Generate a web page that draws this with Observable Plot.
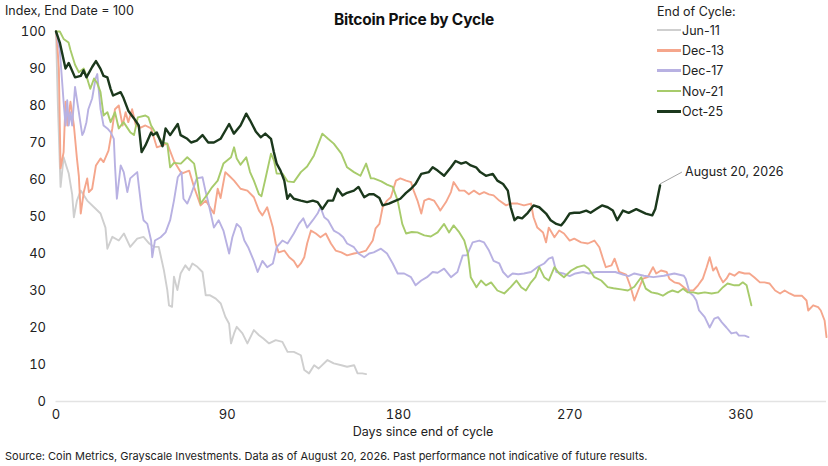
<!DOCTYPE html>
<html>
<head>
<meta charset="utf-8">
<script src="https://cdn.jsdelivr.net/npm/d3@7"></script>
<script src="https://cdn.jsdelivr.net/npm/@observablehq/plot@0.6"></script>
<style>
  html, body { margin: 0; padding: 0; background: #fff; }
  #wrap { position: relative; width: 828px; height: 466px; font-family: Inter, "Noto Sans", sans-serif; color: #222; }
  .abs { position: absolute; white-space: nowrap; }
  #title { left: 0; width: 828px; top: 10px; text-align: center; font-weight: 700; font-size: 15.5px; color: #111; letter-spacing: -0.2px; }
  #ylab { left: 5px; top: 3px; font-size: 12.5px; }
  #xlab { left: 0; width: 846px; top: 424px; text-align: center; font-size: 12.5px; }
  #source { left: 5px; top: 449px; font-size: 11px; }
  #legend { left: 657px; top: 4px; font-size: 12.5px; }
  #legend .row { display: flex; align-items: center; height: 20.3px; }
  #legend .sw { width: 24px; height: 2.5px; margin-right: 1px; }
  #legend .head { height: 16px; }
</style>
</head>
<body>
<div id="wrap">
  <div id="chart"></div>
  <div class="abs" id="title">Bitcoin Price by Cycle</div>
  <div class="abs" id="ylab">Index, End Date = 100</div>
  <div class="abs" id="xlab">Days since end of cycle</div>
  <div class="abs" id="source">Source: Coin Metrics, Grayscale Investments. Data as of August 20, 2026. Past performance not indicative of future results.</div>
  <div class="abs" id="legend"></div>
</div>
<script>
const cycles = ["Jun-11", "Dec-13", "Dec-17", "Nov-21", "Oct-25"];
const colors = ["#cfcfcf", "#f5a68c", "#b8b1e2", "#a7cb6b", "#1b381c"];
const xTicks = [0, 90, 180, 270, 360];
const yTicks = [0, 10, 20, 30, 40, 50, 60, 70, 80, 90, 100];
const annotationText = "August 20, 2026";

const jun11 = [[0,100],[1,80],[2.4,58],[4,66],[5,64.3],[6.7,61.6],[8.5,56],[9.4,49.8],[11,54.3],[13,57],[16.4,54.3],[20,52.5],[23.4,50.8],[26,47],[27,41.3],[29.6,44.5],[33,43.5],[35.7,45.4],[39,41.8],[42.7,44],[46,44.5],[49,42.7],[51.5,41.8],[54,41.8],[56.7,35.5],[58.5,30.1],[59.4,26],[61,25.6],[62,33.7],[63.8,30.1],[65.5,34.6],[68,36.8],[70,35.5],[71.7,37.3],[74.3,36.4],[77,35],[78.7,28.7],[81,28.7],[84,27.8],[86.6,26.5],[89,22.9],[91,21],[92,15.7],[93.6,18.4],[95,20.2],[98,18.4],[100.6,15.7],[104,19.3],[106.7,17.9],[109,17],[112,15.7],[115.5,16.6],[119,16.1],[121.7,13.4],[125,13.4],[128.7,12.5],[130.5,8.5],[133,7.6],[135.7,9.8],[138,8.9],[142.7,11.2],[146,10.3],[150,9.8],[153,9.4],[156.7,9.8],[158.5,7.6],[161,7.6],[163,7.4]];

const dec13 = [[0,100],[0.6,97],[1.5,90],[2.4,63],[4,67.4],[5,81],[6,74.6],[7.6,81],[9.4,74.6],[11,65.7],[12,61],[13,50.8],[14.6,56.6],[16.4,60.3],[17.3,56.6],[19,57.5],[21,63.8],[23.4,65.7],[25,64.7],[27.6,67.8],[29.6,73.8],[31,79],[33,80],[35,74.6],[36.6,78.2],[38,75.5],[40,79],[42,74.6],[44.5,74],[47,74.6],[50,73.8],[53,68.7],[58.5,69.7],[62,65],[66,61.6],[70,62.4],[72.6,57.9],[76,53],[78.7,54.3],[83,50.8],[85,57.5],[86.5,55],[89,62],[91,61],[93.6,59.7],[97,57.5],[100.6,57],[104,55.2],[106.7,51.6],[108.5,50.3],[111,52.5],[114,47],[115.5,42.7],[117,40.3],[120,40.8],[122.6,39],[125,38],[127,36.3],[128.7,37.3],[130.5,39],[132,42.7],[134,46.2],[136.6,45.4],[139,44.4],[141.8,45.4],[144.5,42.7],[147,40.8],[150,40.3],[153,39.5],[156.6,40],[160,40.3],[163,40.8],[166.5,43.5],[168,46.8],[170,48],[171.7,52.5],[174,54.3],[176,55.2],[178.7,59.7],[181,60.3],[184,59.7],[186.6,59.3],[188,57],[190,54.3],[192,50.8],[193.6,54.3],[196,54.8],[198.7,54.3],[201,52.5],[202,51.6],[205,53.9],[207.6,56.6],[209,59.3],[212,57],[214.6,57],[217,56],[219.7,57],[222.5,56],[225,56.6],[227.6,56],[230,55.7],[233,54.3],[236.6,53],[239,53.5],[242.7,53.5],[246,53],[249.7,53.5],[251,49.8],[253,47],[256,45.7],[257.6,43],[259,47],[262,44.4],[264.5,46.2],[267,45.4],[270,43.5],[272.4,44],[276,43],[279.6,42.7],[283,43.5],[285.6,41.7],[287.5,38.6],[289,36.3],[292,36.8],[293.6,38.6],[296,35],[299.7,34.3],[302,31],[304,27.3],[306,30],[308.5,33.2],[311,33.6],[313.8,36.3],[315.5,34.6],[318,35.4],[321,35],[322.4,33.2],[325,32.2],[327.6,31.9],[330,30.9],[332,30],[335,30],[337.5,31.4],[340,33.2],[342,36.3],[343.6,39],[345.4,35.4],[347,36.3],[348.7,34],[350.6,32.2],[352.4,33.2],[354,34.6],[356.6,34],[359,35],[362,34.6],[364.5,34.6],[367,33.6],[370,32.2],[372.4,32.2],[375,31.9],[378,30],[380.6,29.2],[383,30],[385.6,29.2],[388,28.6],[392,28.6],[394.5,27.3],[395.4,24.6],[398,26],[400.6,25.5],[402,24.6],[404,21.9],[405,17.4]];

const dec17 = [[0,100],[2,95],[4,81],[5,74.6],[5.9,81.4],[6.7,74.6],[7.6,78.2],[8.5,74.6],[10,85],[12,78.2],[13.8,72],[14.6,72.8],[16,75.5],[17,79],[19,81.9],[20.8,87.3],[21.7,88.5],[23.4,79],[25,74.6],[27,73.8],[28.7,72.8],[30.4,71],[31,63.8],[32,54.8],[34,63.8],[35.6,62],[37.5,56.6],[39,60.3],[42.7,62],[43.5,58.4],[45,52],[46,49],[48,48],[50,43.5],[50.6,39],[52,43.5],[55,44.4],[57.6,45.7],[60,49],[62,54.3],[64,60.6],[66,62],[67,54.8],[69,53.5],[71,56],[74,60.3],[77,60.6],[78.7,56.6],[80,53.9],[81,51.6],[83,47],[85.5,49],[88,46.2],[91,40],[92.7,44.4],[95,48],[97,47],[99,43.5],[101,41.7],[104,38],[106,35],[108.5,38],[111,36.3],[114,37.3],[116,41.7],[119,43.5],[121.7,42.7],[125,45.4],[127.7,48],[130,49.5],[132,47],[135,49],[137.5,50.8],[139,52.5],[141,49.8],[143,49],[146,46.2],[148.7,45.4],[151,44.4],[153,42.7],[156.6,41.7],[159,40],[162,39],[164.6,40],[167,40.3],[170.8,41.3],[174,40],[177,37.3],[179.6,34.6],[183,34.6],[186.6,33.6],[189,31.4],[192,32.7],[195,33.6],[198,35],[200.6,34.8],[204,35.9],[207.6,33.6],[211,35],[213.8,39.5],[216,39.5],[219,43],[222.5,43.5],[225,43],[227.6,40.8],[230,38],[233,37.3],[235,35],[237.5,33.6],[240,34.6],[243,34.4],[246,34.6],[249.7,35],[253,36.3],[256.6,37.3],[259,38.6],[261,39],[263,35],[266.6,34.6],[270,33.9],[273,34.6],[277,35],[280,34.6],[284,35],[287,35],[291,35],[294,35],[298,34.3],[301,33.9],[304,34.6],[309,34],[314,33.6],[319.5,34],[325,34.6],[330,34],[331,33.2],[333,29.5],[335,28.6],[336.6,27.3],[338,24.6],[341,22.8],[343.6,20],[346,22.4],[348,22.8],[350,21.4],[352.4,20],[355,18.4],[357.6,18.7],[359,17.8],[362,17.8],[364,17.4]];

const nov21 = [[0,100],[2,100],[4,98],[6.6,97],[7.6,95],[10,91],[12,89],[14.6,90],[16,88],[18,84.5],[20,87.3],[21.7,86],[23.4,83.6],[25,77.3],[27,78.2],[28.7,75.5],[31,78.2],[33,73.8],[35.5,75.5],[39,72.8],[41,72],[43,76.8],[47,77.3],[48.6,76.8],[50,74.6],[53,72],[56,70],[58.5,69.7],[60,63.3],[62,64.5],[65.6,64.3],[69,66],[72.6,64.3],[74.3,59.7],[76,53.5],[79.6,56],[82,57.9],[85,59.7],[88,64.3],[92,66],[93.6,68.7],[95,65.7],[97,64],[100,66],[102,62],[104,59.7],[106.7,56],[108,55.5],[110,60],[113,67],[114.6,65.1],[116,61.6],[119,61.6],[121.7,59.5],[125,59.3],[128.7,62],[132,63.5],[135.6,66.5],[140,72.4],[143,71],[146,69.7],[150,67],[153,63.3],[156.6,62],[160,61],[163,64.3],[165.5,60.3],[167,60.3],[171,59.5],[174,58.6],[177,58],[179.6,54.3],[182,48],[184,45.4],[187,45.8],[190,45.7],[193.6,44.9],[197,44.6],[200.6,45.7],[204,48],[206.6,45.7],[209,47.6],[212,45.7],[214.6,43.5],[216.5,40],[218,33.6],[221,30.9],[223.4,32.7],[226,31.4],[228.7,32.2],[232,30],[235.6,29.2],[239,30.9],[242,32.7],[244.5,30.9],[247,30],[249.7,32.2],[252,33.6],[254,36.3],[256.6,33.6],[259,32.7],[262,36.3],[264.5,34.6],[267,33.6],[270.8,35.4],[274,36.3],[277.6,36.8],[280,35.9],[283,33.6],[286.6,32.7],[290,30.9],[293,30.6],[297,30.3],[300.6,30],[304,31],[307.6,33.6],[310,30.5],[313,29.5],[316,29.2],[319,28.6],[321.7,29.5],[324,30],[327,29.5],[329.6,30.5],[332,29.5],[335,29.5],[337.5,29.2],[341,29.5],[344.6,29.2],[348,29.5],[350.6,30.9],[353,31.9],[356.6,31.4],[359,31.4],[361,32.2],[363,31.4],[364.5,28.2],[365.5,26]];

const oct25 = [[0,100],[2,97],[5,90],[6.7,91.5],[10,87.6],[13,88],[14.5,89.5],[16,87.6],[19,90.4],[21,92],[23.4,89.9],[25,88],[27,87.6],[28.7,84.5],[30,82.7],[34,83.6],[35.5,82],[38,78.6],[41,76.5],[43.5,74.6],[45,67.4],[47,69.2],[50,72.7],[51,72],[53,72.7],[56,69],[57.6,73.8],[60,72],[64,75],[65.5,72],[69,71],[71,70],[74,70.5],[77,72],[80,70],[83,70],[86.5,71],[91,75],[93.5,72.4],[97,74.6],[100,77.8],[102,76],[105,73],[107.6,71.4],[110,72.4],[113,71],[114.5,67.4],[116,64.3],[118,62.4],[120,59.7],[121.6,54.8],[123,56],[125,54.8],[128.7,54.3],[132,53.9],[135,54.3],[137.5,53.9],[140,52],[143,54.3],[145.6,54.3],[148,57.5],[150.6,55.7],[153,56.4],[156.6,57],[159,58],[162,55.2],[164.6,56],[167,56],[170,55],[171.7,53],[175,53.5],[178.6,54.3],[181,54.8],[184,56.4],[186.6,57.5],[189,58.8],[192,61.5],[196,62],[198,63.3],[200.6,62.4],[204,61],[207.6,63.3],[210,65],[213,64.3],[215.5,64.7],[218,63.8],[220.8,63.3],[223,62],[226,61],[229.6,61.5],[232,59.7],[235,58.8],[237.5,57],[239,52.5],[241,49],[242.7,49.8],[245,49.5],[248,51],[251,53],[254,52.5],[257.6,50.8],[260,49],[263,48],[265.5,47.6],[267,48.5],[270,50.8],[272.4,51],[275,51],[278.7,51.6],[281,51],[284,52],[287,53],[290,52.5],[292.7,51.6],[295,49],[298,51.6],[301,51],[305,52],[310,50.8],[313.4,50.3],[315,52],[317.5,58.4]];

const seriesData = [jun11, dec13, dec17, nov21, oct25];
const rows = seriesData.flatMap((s, i) => s.map(([day, value]) => ({cycle: cycles[i], day, value})));
const last = oct25[oct25.length - 1];

const chart = Plot.plot({
  width: 828,
  height: 466,
  marginLeft: 55.5,
  marginRight: 2,
  marginTop: 31,
  marginBottom: 65,
  style: {fontFamily: "Inter, 'Noto Sans', sans-serif", fontSize: "13px", color: "#222", background: "#fff"},
  x: {domain: [0, 405], label: null},
  y: {domain: [0, 100], label: null},
  color: {domain: cycles, range: colors},
  marks: [
    Plot.ruleY([0], {stroke: "#e3e3e3", strokeWidth: 1.5}),
    Plot.axisY({ticks: yTicks, tickSize: 0, tickPadding: 10, label: null, fontSize: 13}),
    Plot.axisX({ticks: xTicks, tickSize: 0, tickPadding: 8, label: null, fontSize: 13}),
    ...cycles.map((c, i) => Plot.line(rows.filter(d => d.cycle === c), {
      x: "day", y: "value", stroke: colors[i],
      strokeWidth: c === "Oct-25" ? 2.4 : 1.9, strokeLinejoin: "round", curve: "linear"
    })),
    Plot.link([last], {x1: d => d[0], y1: d => d[1] + 0.4, x2: d => d[0] + 11.5, y2: d => d[1] + 3.6, stroke: "#9a9a9a", strokeWidth: 0.9}),
    Plot.text([last], {x: d => d[0], y: d => d[1], text: () => annotationText, dx: 25, dy: -13, textAnchor: "start", fontSize: 12.5, fill: "#222"})
  ]
});
document.getElementById("chart").appendChild(chart);

const legend = document.getElementById("legend");
legend.innerHTML = `<div class="head">End of Cycle:</div>` + cycles.map((c, i) =>
  `<div class="row"><span class="sw" style="background:${colors[i]}"></span><span>${c}</span></div>`).join("");
</script>
</body>
</html>
